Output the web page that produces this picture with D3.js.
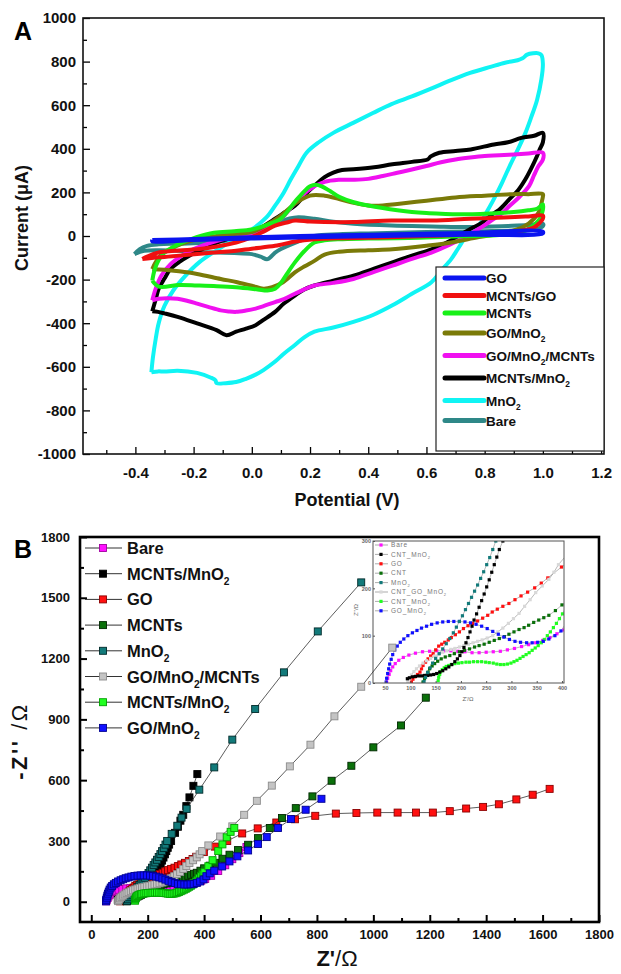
<!DOCTYPE html>
<html>
<head>
<meta charset="utf-8">
<script src="https://cdn.jsdelivr.net/npm/d3@7"></script>
<style>
  body { margin: 0; background: #fff; }
  svg { display: block; font-family: "Liberation Sans", Arial, sans-serif; }
</style>
</head>
<body>
<script>
// ---------- panel A : CV loops, [potential V, current uA] ----------
var cvNames = ['GO', 'MCNTs/GO', 'MCNTs', 'GO/MnO2', 'GO/MnO2/MCNTs', 'MCNTs/MnO2', 'MnO2', 'Bare'];
var cvColors = ['#0a14f0', '#f01010', '#18f018', '#7a7a08', '#f010f0', '#000000', '#10f4f4', '#2e8888'];

var cvGO = [[-0.342,-18],[-0.2,-14],[0.0,-6],[0.25,2],[0.5,8],[0.75,14],[1.0,20],
  [1.0,12],[0.75,6],[0.5,1],[0.25,-5],[0.0,-12],[-0.2,-18],[-0.342,-24],[-0.342,-18]];
var cvMCNTsGO = [[-0.376,-106],[-0.36,-95],[-0.32,-76],[-0.25,-66],[-0.188,-61],[-0.12,-48],[-0.054,-30],
  [0.0,-5],[0.04,20],[0.08,48],[0.12,62],[0.148,71],[0.2,66],[0.25,64],[0.35,64],[0.48,71],[0.62,71],
  [0.75,79],[0.886,86],[0.95,90],[1.0,94],
  [1.0,80],[0.985,55],[0.97,40],[0.93,25],[0.9,20],[0.8,12],[0.7,5],[0.6,0],[0.5,-5],[0.4,-8],[0.3,-10],
  [0.215,-15],[0.15,-25],[0.08,-45],[0.0,-58],[-0.054,-68],[-0.12,-75],[-0.188,-83],[-0.25,-90],
  [-0.32,-98],[-0.376,-106]];
var cvMCNTs = [[-0.342,-205],[-0.335,-160],[-0.32,-110],[-0.30,-75],[-0.27,-50],[-0.23,-25],[-0.19,-5],
  [-0.13,15],[-0.06,22],[0.0,30],[0.05,50],[0.1,80],[0.15,160],[0.18,205],[0.2,228],[0.22,235],[0.24,228],
  [0.27,205],[0.3,180],[0.35,155],[0.4,140],[0.45,128],[0.5,118],[0.55,110],[0.6,105],[0.65,102],[0.7,100],
  [0.75,100],[0.8,102],[0.85,105],[0.9,110],[0.95,118],[0.98,125],[1.0,145],
  [1.0,120],[0.99,80],[0.97,50],[0.94,25],[0.9,12],[0.85,5],[0.75,0],[0.65,-5],[0.5,-10],[0.4,-12],
  [0.3,-15],[0.25,-20],[0.215,-30],[0.18,-70],[0.148,-121],[0.12,-175],[0.1,-215],[0.08,-242],[0.054,-250],
  [0.02,-245],[-0.054,-235],[-0.12,-230],[-0.188,-227],[-0.25,-225],[-0.32,-232],[-0.342,-205]];
var cvGOMnO2 = [[-0.342,-152],[-0.33,-120],[-0.31,-85],[-0.28,-61],[-0.24,-35],[-0.188,-15],[-0.12,0],
  [-0.05,10],[0.0,18],[0.05,50],[0.1,94],[0.15,150],[0.2,185],[0.25,185],[0.3,170],[0.35,152],[0.4,140],
  [0.45,140],[0.5,147],[0.6,162],[0.7,177],[0.8,185],[0.9,192],[0.95,192],[1.0,192],
  [1.0,180],[0.995,150],[0.99,120],[0.97,80],[0.93,40],[0.85,10],[0.78,-5],[0.685,-30],[0.6,-45],
  [0.483,-61],[0.4,-65],[0.3,-72],[0.25,-85],[0.215,-114],[0.18,-140],[0.148,-167],[0.107,-212],
  [0.07,-235],[0.04,-242],[0.0,-228],[-0.05,-212],[-0.107,-197],[-0.188,-174],[-0.25,-162],[-0.3,-155],
  [-0.342,-152]];
var cvGOMnO2MCNTs = [[-0.342,-295],[-0.33,-240],[-0.31,-180],[-0.28,-130],[-0.24,-90],[-0.2,-60],
  [-0.15,-35],[-0.1,-15],[-0.05,0],[0.0,12],[0.05,40],[0.1,79],[0.15,154],[0.2,215],[0.25,248],[0.3,258],
  [0.35,258],[0.4,262],[0.45,275],[0.5,290],[0.55,305],[0.6,321],[0.65,338],[0.7,351],[0.75,360],[0.8,367],
  [0.85,370],[0.9,374],[0.95,378],[1.0,382],
  [1.0,350],[0.985,321],[0.97,280],[0.953,230],[0.92,180],[0.886,139],[0.86,105],[0.832,79],[0.8,50],
  [0.78,33],[0.738,0],[0.68,-40],[0.617,-76],[0.55,-105],[0.483,-136],[0.42,-165],[0.349,-197],[0.28,-215],
  [0.215,-227],[0.18,-245],[0.148,-265],[0.11,-290],[0.08,-303],[0.04,-322],[0.013,-333],[-0.02,-342],
  [-0.054,-348],[-0.08,-346],[-0.107,-341],[-0.15,-325],[-0.188,-310],[-0.22,-298],[-0.255,-288],
  [-0.29,-285],[-0.32,-288],[-0.342,-295]];
var cvMCNTsMnO2 = [[-0.342,-345],[-0.33,-290],[-0.32,-242],[-0.30,-195],[-0.28,-152],[-0.25,-120],
  [-0.215,-91],[-0.17,-60],[-0.12,-30],[-0.06,-5],[0.0,18],[0.04,45],[0.08,79],[0.115,110],[0.148,139],
  [0.18,185],[0.215,230],[0.25,270],[0.28,291],[0.31,303],[0.349,306],[0.42,315],[0.483,329],[0.55,340],
  [0.604,351],[0.615,365],[0.644,382],[0.70,390],[0.752,397],[0.832,420],[0.88,430],[0.926,450],[0.97,460],
  [1.0,473],
  [1.0,430],[0.99,400],[0.98,367],[0.96,310],[0.94,260],[0.915,210],[0.886,170],[0.85,120],[0.82,94],
  [0.79,60],[0.752,33],[0.71,0],[0.67,-30],[0.617,-61],[0.55,-90],[0.483,-121],[0.42,-150],[0.349,-182],
  [0.28,-205],[0.215,-227],[0.18,-245],[0.148,-273],[0.11,-310],[0.08,-348],[0.04,-385],[0.013,-409],
  [-0.02,-425],[-0.054,-439],[-0.087,-455],[-0.121,-432],[-0.188,-401],[-0.255,-371],[-0.30,-355],
  [-0.322,-348],[-0.342,-345]];
var cvMnO2 = [[-0.345,-625],[-0.34,-560],[-0.33,-470],[-0.32,-400],[-0.30,-320],[-0.27,-250],[-0.23,-185],
  [-0.18,-120],[-0.12,-65],[-0.06,-15],[0.0,30],[0.05,85],[0.08,139],[0.11,200],[0.134,260],[0.16,320],
  [0.188,382],[0.23,430],[0.28,473],[0.35,520],[0.416,564],[0.48,605],[0.55,640],[0.62,678],[0.685,715],
  [0.75,748],[0.82,776],[0.87,795],[0.913,806],[0.93,815],[0.946,832],[0.966,838],[0.985,838],[0.995,830],
  [1.0,790],[0.995,720],[0.98,624],[0.96,545],[0.94,473],[0.915,400],[0.886,321],[0.86,245],[0.832,170],
  [0.805,105],[0.78,48],[0.738,0],[0.71,-55],[0.685,-106],[0.65,-160],[0.617,-212],[0.55,-265],
  [0.483,-318],[0.42,-360],[0.349,-394],[0.28,-420],[0.215,-439],[0.18,-465],[0.148,-500],[0.11,-540],
  [0.08,-576],[0.04,-615],[0.013,-636],[-0.02,-655],[-0.054,-670],[-0.09,-675],[-0.121,-675],
  [-0.125,-662],[-0.14,-650],[-0.188,-628],[-0.255,-618],[-0.30,-622],[-0.322,-621],[-0.345,-625]];
var cvBare = [[-0.403,-83],[-0.385,-60],[-0.36,-45],[-0.32,-38],[-0.25,-35],[-0.15,-30],[-0.05,-15],
  [0.0,0],[0.05,30],[0.1,65],[0.13,80],[0.16,86],[0.215,79],[0.28,65],[0.35,56],[0.48,48],[0.62,44],
  [0.75,41],[0.88,46],[0.95,50],[1.0,56],
  [1.0,45],[0.97,30],[0.9,25],[0.8,22],[0.6,18],[0.4,12],[0.3,8],[0.215,0],[0.15,-30],[0.1,-60],
  [0.08,-76],[0.054,-106],[0.03,-95],[0.0,-83],[-0.06,-78],[-0.12,-76],[-0.2,-72],[-0.255,-68],
  [-0.32,-65],[-0.37,-68],[-0.403,-83]];
var cvSeries = [cvGO, cvMCNTsGO, cvMCNTs, cvGOMnO2, cvGOMnO2MCNTs, cvMCNTsMnO2, cvMnO2, cvBare];

var cvXTicks = [-0.4, -0.2, 0.0, 0.2, 0.4, 0.6, 0.8, 1.0, 1.2];
var cvXMinor = [-0.5, -0.3, -0.1, 0.1, 0.3, 0.5, 0.7, 0.9, 1.1];
var cvYTicks = [-1000, -800, -600, -400, -200, 0, 200, 400, 600, 800, 1000];
var cvYMinor = [-900, -700, -500, -300, -100, 100, 300, 500, 700, 900];

// ---------- panel B : Nyquist plots, [Z' ohm, -Z'' ohm] ----------
var eisNames = ['Bare', 'MCNTs/MnO2', 'GO', 'MCNTs', 'MnO2', 'GO/MnO2/MCNTs', 'MCNTs/MnO2', 'GO/MnO2'];
var insetNames = ['Bare', 'CNT_MnO2', 'GO', 'CNT', 'MnO2', 'CNT_GO_MnO2', 'CNT_MnO2', 'GO_MnO2'];
var eisFill = ['#ff10ff', '#000000', '#ff1010', '#0a700a', '#127a7a', '#c4c4c4', '#20ff20', '#1010ff'];
var eisEdge = ['#a000a0', '#000000', '#8a0000', '#002800', '#002a2a', '#8c8c8c', '#00a000', '#000090'];

var eisBare = [[53,2],[55,10],[58,18],[61,26],[65,34],[70,41],[77,48],[86,54],[97,59],[110,63],[124,66],
  [138,67],[152,68],[166,68],[180,68],[194,67],[208,66],[222,64],[236,64],[250,65],[264,66],[278,67],
  [292,70],[306,73],[320,77],[334,81],[348,85],[362,90],[376,96],[390,104],[404,112],[425,128],[450,152],
  [475,180],[500,210],[525,240],[550,270]];
var eisMCNTsMnO2 = [[94,9],[98,11],[104,13],[110,14],[116,15],[122,15],[128,16],[134,16],[140,17],[146,18],
  [152,20],[158,23],[164,26],[170,30],[176,34],[182,39],[188,45],[193,51],[198,58],[202,66],[206,75],
  [210,85],[214,96],[218,108],[222,120],[226,133],[231,146],[236,160],[241,174],[246,188],[251,203],
  [256,218],[261,234],[266,250],[271,266],[276,282],[283,300],[297,340],[307,370],[316,400],[326,429],
  [337,472],[348,515],[362,572],[376,630]];
var eisGO = [[102,2],[105,8],[109,13],[114,18],[119,23],[122,30],[125,37],[130,44],[135,51],[140,57],
  [145,62],[150,70],[156,78],[162,82],[168,86],[175,91],[181,96],[189,102],[197,108],[205,115],[214,121],
  [223,126],[233,131],[243,137],[253,143],[262,150],[272,156],[283,162],[295,168],[307,176],[319,184],
  [332,192],[346,201],[359,211],[372,222],[399,245],[438,272],[482,300],[535,337],[590,362],[656,391],
  [722,407],[794,424],[867,435],[940,438],[1014,440],[1086,440],[1151,440],[1211,440],[1271,447],
  [1329,460],[1389,468],[1445,481],[1507,505],[1565,528],[1625,557]];
var eisMCNTs = [[125,2],[128,9],[132,16],[135,23],[138,30],[143,36],[148,41],[154,46],[161,51],[169,55],
  [178,58],[187,62],[197,66],[207,69],[217,72],[227,76],[236,79],[246,82],[256,86],[266,90],[276,94],
  [286,98],[295,103],[305,108],[315,113],[325,117],[334,122],[344,128],[354,133],[364,138],[374,143],
  [387,153],[400,165],[420,178],[440,192],[465,212],[490,232],[520,255],[556,281],[591,314],[633,364],
  [676,413],[725,462],[784,520],[852,597],[922,671],[1000,762],[1098,870],[1186,1007]];
var eisMnO2 = [[127,3],[130,12],[134,22],[139,32],[144,42],[150,52],[157,62],[164,72],[171,83],[178,94],
  [185,106],[191,118],[197,130],[203,142],[209,155],[215,168],[221,181],[227,194],[233,207],[239,221],
  [245,235],[251,250],[257,265],[263,282],[269,300],[285,335],[305,375],[320,415],[338,458],[383,553],
  [436,663],[500,800],[581,951],[683,1132],[803,1334],[957,1576]];
var eisGOMnO2MCNTs = [[95,3],[98,10],[102,17],[107,24],[112,30],[118,36],[125,42],[132,47],[140,52],
  [148,57],[156,61],[164,65],[172,68],[180,71],[188,73],[197,76],[206,79],[215,82],[224,85],[233,88],
  [242,91],[252,95],[263,100],[273,108],[283,116],[294,126],[304,136],[315,147],[326,162],[337,176],
  [348,191],[361,205],[374,219],[384,234],[393,250],[415,278],[457,322],[500,372],[542,429],[587,498],
  [640,573],[704,668],[777,775],[862,915],[957,1061],[1067,1254]];
var eisMCNTsMnO2b = [[155,5],[156,12],[158,18],[160,24],[163,28],[167,32],[171,35],[176,37],[181,39],
  [188,41],[195,42],[202,43],[210,44],[217,44],[225,45],[233,45],[241,45],[249,44],[256,43],[264,42],
  [271,40],[278,39],[285,39],[292,40],[299,42],[305,45],[311,48],[317,52],[323,56],[329,60],[335,64],
  [341,69],[347,74],[353,79],[359,85],[365,92],[371,100],[377,108],[383,117],[389,126],[395,136],
  [401,146],[415,175],[430,205],[450,250],[465,283],[480,318],[494,345],[507,364]];
var eisGOMnO2 = [[52,2],[53,10],[55,20],[57,30],[59,40],[62,50],[65,60],[69,70],[74,78],[80,86],[87,93],
  [95,100],[104,106],[113,111],[122,116],[132,120],[142,124],[153,127],[164,129],[175,130],[186,130],
  [197,130],[208,129],[219,127],[230,124],[241,120],[252,115],[263,109],[274,103],[285,97],[296,92],
  [307,88],[318,86],[330,85],[341,85],[352,86],[363,88],[374,93],[386,100],[398,110],[408,126],[420,140],
  [436,153],[464,174],[490,199],[518,224],[556,253],[591,285],[622,319],[662,364],[708,408],[760,454],
  [816,508]];
var eisSeries = [eisBare, eisMCNTsMnO2, eisGO, eisMCNTs, eisMnO2, eisGOMnO2MCNTs, eisMCNTsMnO2b, eisGOMnO2];

var eisXTicks = [0, 200, 400, 600, 800, 1000, 1200, 1400, 1600, 1800];
var eisXMinor = [100, 300, 500, 700, 900, 1100, 1300, 1500, 1700];
var eisYTicks = [0, 300, 600, 900, 1200, 1500, 1800];
var eisYMinor = [150, 450, 750, 1050, 1350, 1650];
var insetXTicks = [50, 100, 150, 200, 250, 300, 350, 400];
var insetYTicks = [0, 100, 200, 300];

// ---------- drawing ----------
var svg = d3.select('body').append('svg').attr('width', 621).attr('height', 974);

// writes a label, putting the 2 of "O2" as a subscript
function richLabel(sel, label, fs) {
  var parts = label.split('O2');
  parts.forEach(function(p, i) {
    var t = sel.append('tspan').text(p + (i < parts.length - 1 ? 'O' : ''));
    if (i > 0) t.attr('dy', -fs * 0.32);
    if (i < parts.length - 1)
      sel.append('tspan').attr('font-size', fs * 0.62).attr('dy', fs * 0.32).text('2');
  });
}

function styleAxis(g, fs, w) {
  g.select('.domain').remove();
  g.selectAll('.tick line').attr('stroke', '#000').attr('stroke-width', w);
  g.selectAll('.tick text').attr('font-size', fs).attr('font-weight', 'bold')
    .attr('fill', '#111').attr('font-family', '"Liberation Sans", Arial, sans-serif');
}

// ----- panel A -----
var xA = d3.scaleLinear().domain([-0.58, 1.21]).range([83, 604]);
var yA = d3.scaleLinear().domain([-1000, 1000]).range([454, 18]);

var gA = svg.append('g');
var line = d3.line().x(function(d){ return xA(d[0]); }).y(function(d){ return yA(d[1]); })
  .curve(d3.curveCatmullRom.alpha(0.5));

// GO drawn last so it sits on top, as in the figure
[7, 6, 5, 4, 3, 2, 1, 0].forEach(function(k) {
  gA.append('path').datum(cvSeries[k])
    .attr('d', line)
    .attr('fill', 'none')
    .attr('stroke', cvColors[k])
    .attr('stroke-width', 4)
    .attr('stroke-linejoin', 'round');
});

var axA = gA.append('g').attr('transform', 'translate(0,454)')
  .call(d3.axisBottom(xA).tickValues(cvXTicks).tickSize(-7).tickPadding(13)
    .tickFormat(function(d){ return d.toFixed(1); }));
styleAxis(axA, 15, 1.3);
var axAm = gA.append('g').attr('transform', 'translate(0,454)')
  .call(d3.axisBottom(xA).tickValues(cvXMinor).tickSize(-4).tickFormat(''));
styleAxis(axAm, 15, 1.3);
var ayA = gA.append('g').attr('transform', 'translate(83,0)')
  .call(d3.axisLeft(yA).tickValues(cvYTicks).tickSize(-7).tickPadding(7)
    .tickFormat(function(d){ return String(d); }));
styleAxis(ayA, 15, 1.3);
var ayAm = gA.append('g').attr('transform', 'translate(83,0)')
  .call(d3.axisLeft(yA).tickValues(cvYMinor).tickSize(-4).tickFormat(''));
styleAxis(ayAm, 15, 1.3);

gA.append('rect').attr('x', 83).attr('y', 18).attr('width', 521).attr('height', 436)
  .attr('fill', 'none').attr('stroke', '#111').attr('stroke-width', 1.6);

// legend A
var legA = gA.append('g');
legA.append('rect').attr('x', 436).attr('y', 267).attr('width', 168).attr('height', 184)
  .attr('fill', '#fff').attr('stroke', '#222').attr('stroke-width', 1.2);
var ly = 278;
cvNames.forEach(function(name, k) {
  if (k > 0) ly += 17.5 + (cvNames[k - 1].indexOf('O2') >= 0 ? 2.5 : 0) + (name.indexOf('O2') >= 0 ? 2.5 : 0);
  legA.append('line').attr('x1', 445).attr('x2', 484).attr('y1', ly).attr('y2', ly)
    .attr('stroke', cvColors[k]).attr('stroke-width', 5).attr('stroke-linecap', 'round');
  var t = legA.append('text').attr('x', 486).attr('y', ly + 5)
    .attr('font-size', 13.5).attr('font-weight', 'bold').attr('fill', '#111');
  richLabel(t, name, 13.5);
});

gA.append('text').attr('x', 14).attr('y', 40).attr('font-size', 25).attr('font-weight', 'bold').text('A');
gA.append('text').attr('transform', 'translate(28,218) rotate(-90)').attr('text-anchor', 'middle')
  .attr('font-size', 18).attr('font-weight', 'bold').attr('fill', '#111').text('Current (\u03bcA)');
gA.append('text').attr('x', 347).attr('y', 506).attr('text-anchor', 'middle')
  .attr('font-size', 18).attr('font-weight', 'bold').attr('fill', '#111').text('Potential (V)');

// ----- panel B -----
var xB = d3.scaleLinear().domain([-40, 1800]).range([80, 599]);
var yB = d3.scaleLinear().domain([-100, 1800]).range([922, 537]);
var gB = svg.append('g');

var axB = gB.append('g').attr('transform', 'translate(0,922)')
  .call(d3.axisBottom(xB).tickValues(eisXTicks).tickSize(-7).tickPadding(8)
    .tickFormat(function(d){ return String(d); }));
styleAxis(axB, 13, 2);
var axBm = gB.append('g').attr('transform', 'translate(0,922)')
  .call(d3.axisBottom(xB).tickValues(eisXMinor).tickSize(-4).tickFormat(''));
styleAxis(axBm, 13, 2);
var ayB = gB.append('g').attr('transform', 'translate(80,0)')
  .call(d3.axisLeft(yB).tickValues(eisYTicks).tickSize(-7).tickPadding(10)
    .tickFormat(function(d){ return String(d); }));
styleAxis(ayB, 13, 2);
var ayBm = gB.append('g').attr('transform', 'translate(80,0)')
  .call(d3.axisLeft(yB).tickValues(eisYMinor).tickSize(-4).tickFormat(''));
styleAxis(ayBm, 13, 2);

// ----- inset, drawn under the main series (low-Z zoom of the same data) -----
var xI = d3.scaleLinear().domain([26, 404]).range([373, 564]);
var yI = d3.scaleLinear().domain([0, 300]).range([683, 541]);
var gI = gB.append('g');
gI.append('rect').attr('x', 373).attr('y', 541).attr('width', 191).attr('height', 142).attr('fill', '#fff');
svg.append('clipPath').attr('id', 'clipI').append('rect')
  .attr('x', 373).attr('y', 541).attr('width', 191).attr('height', 142);
var gIp = gI.append('g').attr('clip-path', 'url(#clipI)');
var lineI = d3.line().x(function(d){ return xI(d[0]); }).y(function(d){ return yI(d[1]); });
var insetOrder = [0, 2, 3, 5, 6, 7, 1, 4];
insetOrder.forEach(function(k) {
  gIp.append('path').datum(eisSeries[k]).attr('d', lineI).attr('fill', 'none')
    .attr('stroke', '#8a8a8a').attr('stroke-width', 0.6);
});
insetOrder.forEach(function(k) {
  gIp.selectAll('rect.i' + k).data(eisSeries[k]).enter().append('rect').attr('class', 'i' + k)
    .attr('x', function(d){ return xI(d[0]) - 1.6; })
    .attr('y', function(d){ return yI(d[1]) - 1.6; })
    .attr('width', 3.2).attr('height', 3.2)
    .attr('fill', eisFill[k] === '#c4c4c4' ? '#d8d8d8' : eisFill[k]);
});

var axI = gI.append('g').attr('transform', 'translate(0,683)')
  .call(d3.axisBottom(xI).tickValues(insetXTicks).tickSize(-2).tickPadding(3));
axI.select('.domain').remove();
axI.selectAll('.tick line').attr('stroke', '#555');
axI.selectAll('.tick text').attr('font-size', 5.5).attr('fill', '#666').attr('font-weight', 'bold');
var ayI = gI.append('g').attr('transform', 'translate(373,0)')
  .call(d3.axisLeft(yI).tickValues(insetYTicks).tickSize(-2).tickPadding(2));
ayI.select('.domain').remove();
ayI.selectAll('.tick line').attr('stroke', '#555');
ayI.selectAll('.tick text').attr('font-size', 5.5).attr('fill', '#666').attr('font-weight', 'bold');
gI.append('rect').attr('x', 373).attr('y', 541).attr('width', 191).attr('height', 142)
  .attr('fill', 'none').attr('stroke', '#555').attr('stroke-width', 1);

insetNames.forEach(function(name, k) {
  var y = 545 + k * 9.4;
  gI.append('line').attr('x1', 375).attr('x2', 388).attr('y1', y).attr('y2', y)
    .attr('stroke', '#888').attr('stroke-width', 0.7);
  gI.append('rect').attr('x', 379.4).attr('y', y - 1.6).attr('width', 3.2).attr('height', 3.2)
    .attr('fill', eisFill[k] === '#c4c4c4' ? '#d8d8d8' : eisFill[k]);
  var t = gI.append('text').attr('x', 391).attr('y', y + 2.2)
    .attr('font-size', 6.5).attr('fill', '#777').attr('letter-spacing', 0.8);
  richLabel(t, name, 6.5);
});
gI.append('text').attr('x', 468).attr('y', 701).attr('text-anchor', 'middle')
  .attr('font-size', 6).attr('fill', '#666').text("Z'/\u03a9");
gI.append('text').attr('transform', 'translate(358,610) rotate(-90)').attr('text-anchor', 'middle')
  .attr('font-size', 6).attr('fill', '#666').text("Z''/\u03a9");

// ----- main Nyquist series -----
var lineB = d3.line().x(function(d){ return xB(d[0]); }).y(function(d){ return yB(d[1]); });
var ms = 7;
eisSeries.forEach(function(s, k) {
  gB.append('path').datum(s).attr('d', lineB).attr('fill', 'none')
    .attr('stroke', '#333').attr('stroke-width', 0.8);
  gB.selectAll('rect.m' + k).data(s).enter().append('rect').attr('class', 'm' + k)
    .attr('x', function(d){ return xB(d[0]) - ms / 2; })
    .attr('y', function(d){ return yB(d[1]) - ms / 2; })
    .attr('width', ms).attr('height', ms)
    .attr('fill', eisFill[k]).attr('stroke', eisEdge[k]).attr('stroke-width', 0.9);
});

gB.append('rect').attr('x', 80).attr('y', 537).attr('width', 519).attr('height', 385)
  .attr('fill', 'none').attr('stroke', '#000').attr('stroke-width', 2.6);

// legend B
eisNames.forEach(function(name, k) {
  var y = 548 + k * 25.7;
  gB.append('line').attr('x1', 85).attr('x2', 122).attr('y1', y).attr('y2', y)
    .attr('stroke', '#333').attr('stroke-width', 1);
  gB.append('rect').attr('x', 103 - ms / 2).attr('y', y - ms / 2).attr('width', ms).attr('height', ms)
    .attr('fill', eisFill[k]).attr('stroke', eisEdge[k]).attr('stroke-width', 0.9);
  var t = gB.append('text').attr('x', 127).attr('y', y + 6)
    .attr('font-size', 16.5).attr('font-weight', 'bold').attr('fill', '#111');
  richLabel(t, name, 16.5);
});

gB.append('text').attr('x', 14).attr('y', 558).attr('font-size', 25).attr('font-weight', 'bold').text('B');
var yl = gB.append('text').attr('transform', 'translate(27,741) rotate(-90)').attr('text-anchor', 'middle')
  .attr('font-size', 22).attr('fill', '#111').attr('letter-spacing', 2.5);
yl.append('tspan').attr('font-weight', 'bold').text("-Z''");
yl.append('tspan').text(' /\u03a9');
var xl = gB.append('text').attr('x', 337).attr('y', 966).attr('text-anchor', 'middle')
  .attr('font-size', 22).attr('fill', '#111');
xl.append('tspan').attr('font-weight', 'bold').text("Z'");
xl.append('tspan').text('/\u03a9');
</script>
</body>
</html>
